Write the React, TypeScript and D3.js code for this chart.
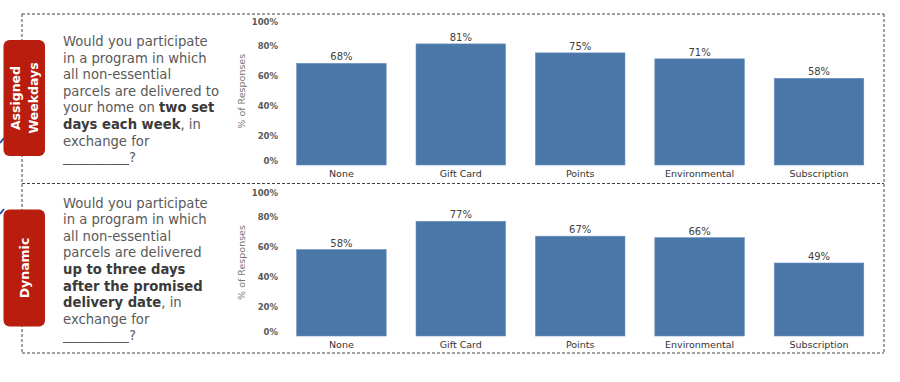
import React from "react";
import * as d3 from "d3";

const categories = ["None", "Gift Card", "Points", "Environmental", "Subscription"];
const weekdaysValues = [68, 81, 75, 71, 58];
const dynamicValues = [58, 77, 67, 66, 49];
const yTicks = [0, 20, 40, 60, 80, 100];

type Seg = { t: string; b?: boolean };
const q1: Seg[][] = [
  [{ t: "Would you participate" }],
  [{ t: "in a program in which" }],
  [{ t: "all non-essential" }],
  [{ t: "parcels are delivered to" }],
  [{ t: "your home on " }, { t: "two set", b: true }],
  [{ t: "days each week", b: true }, { t: ", in" }],
  [{ t: "exchange for" }],
  [{ t: "__________?" }],
];
const q2: Seg[][] = [
  [{ t: "Would you participate" }],
  [{ t: "in a program in which" }],
  [{ t: "all non-essential" }],
  [{ t: "parcels are delivered" }],
  [{ t: "up to three days", b: true }],
  [{ t: "after the promised", b: true }],
  [{ t: "delivery date", b: true }, { t: ", in" }],
  [{ t: "exchange for" }],
  [{ t: "__________?" }],
];

const FONT = "'DejaVu Sans', Verdana, sans-serif";
const BAR = "#4b76a8";

function Panel({ values, y0, y1 }: { values: number[]; y0: number; y1: number }) {
  const x = d3.scaleBand<string>().domain(categories).range([281.7, 878.7]).paddingInner(0.25).paddingOuter(0.125);
  const y = d3.scaleLinear().domain([0, 100]).range([y0, y1]);
  return (
    <g>
      {yTicks.map((t) => (
        <text
          key={t}
          x={278}
          y={y(t)}
          dy={t === 0 ? -1.5 : t === 100 ? 9 : 3.5}
          textAnchor="end"
          fontSize={8.5}
          fontWeight="bold"
          fill="#5a5a5a"
          fontFamily={FONT}
        >
          {t}%
        </text>
      ))}
      <text
        transform={`translate(245,${(y0 + y1) / 2 + 1}) rotate(-90)`}
        textAnchor="middle"
        fontSize={9.5}
        fill="#777"
        fontFamily={FONT}
      >
        % of Responses
      </text>
      {categories.map((c, i) => (
        <g key={c}>
          <rect x={x(c)} y={y(values[i])} width={x.bandwidth()} height={y0 - y(values[i])} fill={BAR} stroke="#6b92c0" strokeWidth={0.6} />
          <text x={(x(c) as number) + x.bandwidth() / 2} y={y(values[i]) - 3} textAnchor="middle" fontSize={10} fill="#404040" fontFamily={FONT}>
            {values[i]}%
          </text>
          <text x={(x(c) as number) + x.bandwidth() / 2} y={y0 + 11.5} textAnchor="middle" fontSize={9.5} fill="#333" fontFamily={FONT}>
            {c}
          </text>
        </g>
      ))}
    </g>
  );
}

function Question({ lines, yStart }: { lines: Seg[][]; yStart: number }) {
  return (
    <text fontFamily={FONT} fontSize={13.2} fill="#595959">
      {lines.map((ln, i) => (
        <tspan key={i} x={63} y={yStart + i * 16.6}>
          {ln.map((s, j) => (
            <tspan key={j} fontWeight={s.b ? "bold" : "normal"} fill={s.b ? "#3a3a3a" : "#595959"}>
              {s.t}
            </tspan>
          ))}
        </tspan>
      ))}
    </text>
  );
}

export default function App() {
  const dash = { stroke: "#444", strokeWidth: 1, strokeDasharray: "3,2", fill: "none" };
  return (
    <svg width={900} height={382} style={{ position: "absolute", left: 0, top: 0, background: "#fff" }}>
      <rect x={0} y={0} width={900} height={382} fill="#fff" />
      <line x1={22} y1={14} x2={884} y2={14} {...dash} />
      <line x1={22} y1={183.5} x2={884} y2={183.5} {...dash} />
      <line x1={22} y1={353} x2={884} y2={353} {...dash} />
      <line x1={22} y1={14} x2={22} y2={353} {...dash} />
      <line x1={884} y1={14} x2={884} y2={353} {...dash} />
      <path d="M0,143 L4,138" stroke="#1f4f9a" strokeWidth={2} />
      <path d="M0,214 L4,209" stroke="#1f4f9a" strokeWidth={2} />
      <rect x={3.5} y={40} width={41.5} height={116} rx={6} fill="#b81d0d" />
      <text transform="translate(20,98) rotate(-90)" textAnchor="middle" fontSize={12.5} fontWeight="bold" fill="#fff" fontFamily={FONT}>
        Assigned
      </text>
      <text transform="translate(38,98) rotate(-90)" textAnchor="middle" fontSize={12.5} fontWeight="bold" fill="#fff" fontFamily={FONT}>
        Weekdays
      </text>
      <rect x={3.5} y={209.5} width={41.5} height={117} rx={6} fill="#b81d0d" />
      <text transform="translate(29,268) rotate(-90)" textAnchor="middle" fontSize={12.5} fontWeight="bold" fill="#fff" fontFamily={FONT}>
        Dynamic
      </text>
      <Question lines={q1} yStart={46} />
      <Question lines={q2} yStart={207.5} />
      <Panel values={weekdaysValues} y0={165} y1={15.5} />
      <Panel values={dynamicValues} y0={336} y1={187} />
    </svg>
  );
}
